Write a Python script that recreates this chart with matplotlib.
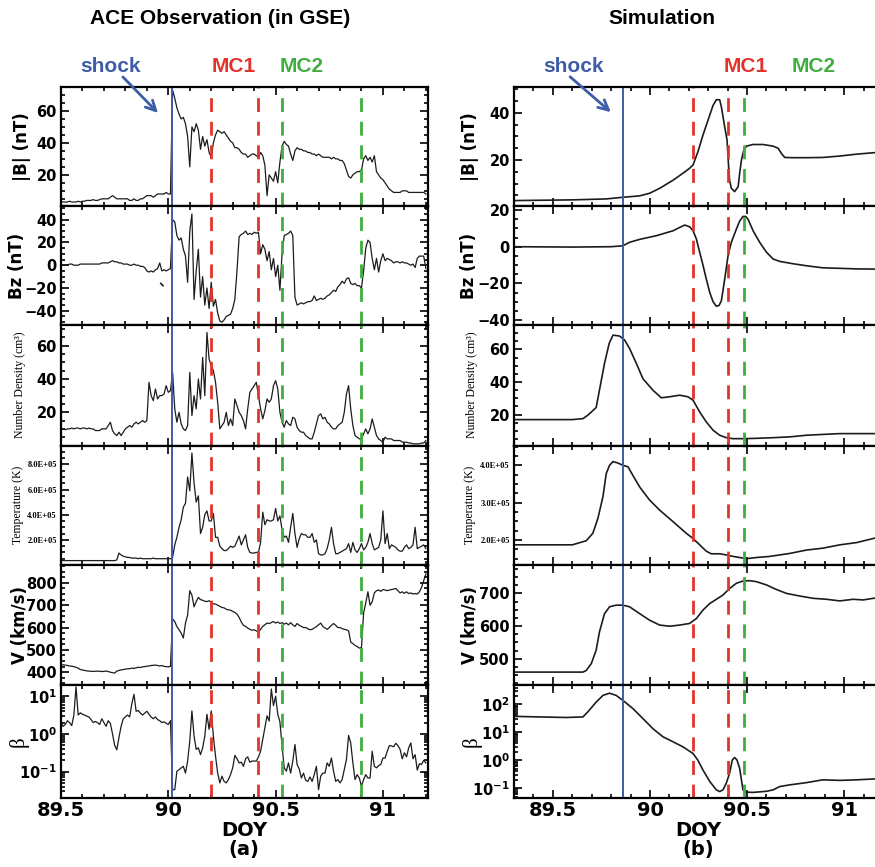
import numpy as np
import matplotlib
matplotlib.use("Agg")
import matplotlib.pyplot as plt
from matplotlib.ticker import MultipleLocator, AutoMinorLocator, FuncFormatter, LogLocator, NullFormatter
from matplotlib.patches import FancyArrowPatch

# ---------------- observation (ACE), one value every 0.01 day, 89.50 .. 91.20
obs_t = np.arange(8950, 9121) / 100.0

obs_b = [3.5, 3, 3, 3, 3.5, 3, 3, 3, 3.5, 3,
         3.5, 3.5, 4, 4, 4, 4.5, 4, 4, 4.5, 5,
         5, 5, 5, 6, 7, 6, 5, 5, 5, 5,
         5, 5, 4, 4, 5, 4, 4, 5, 5, 6,
         7, 7, 7, 6, 7, 8, 8, 8, 8, 9,
         8, 8, 73, 68, 62, 58, 55, 56, 52, 44,
         25, 50, 47, 52, 48, 36, 44, 38, 42, 34,
         31, 40, 45, 48, 47, 46, 47, 45, 43, 41,
         40, 37, 37, 36, 34, 33, 33, 31, 32, 33,
         33, 32, 31, 34, 32, 26, 7, 20, 18, 16,
         22, 15, 28, 38, 41, 39, 38, 33, 29, 35,
         37, 36, 36, 35, 35, 34, 34, 33, 33, 32,
         33, 32, 31, 31, 31, 31, 30, 31, 30, 30,
         29, 29, 27, 23, 19, 18, 20, 21, 22, 22,
         23, 30, 32, 29, 31, 28, 32, 22, 20, 18,
         17, 15, 13, 11, 10, 9, 9, 9, 9, 10,
         10, 10, 9, 9, 9, 9, 9, 9, 9, 9,
         8]

obs_bz = [0, 0, 0, 0, 1, 1, 0, 0, 0, 1,
          1, 1, 1, 1, 1, 1, 1, 1, 1, 2,
          2, 2, 2, 3, 4, 3, 3, 2, 2, 1,
          1, 1, 0, 0, 1, 0, 0, -1, -1, -2,
          -5, -6, -5, -6, -4, -3, 2, -5, -4, -5,
          -4, -3, 40, 38, 26, 22, 24, 14, 8, -15,
          30, 45, -30, -5, 14, -28, -10, -35, -20, -38,
          -15, -36, -30, -42, -49, -50, -48, -45, -44, -43,
          -38, -30, -5, 25, 27, 28, 30, 27, 28, 27,
          29, 28, 29, 10, 18, 14, 4, 12, -4, 6,
          -10, 0, -22, 10, 26, 27, 28, 30, 26, -28,
          -35, -34, -33, -34, -33, -32, -32, -31, -27, -31,
          -30, -29, -30, -29, -27, -26, -24, -22, -23, -19,
          -17, -14, -16, -12, -11, -16, -17, -16, -18, -18,
          -20, -5, 15, 22, 20, 6, -4, 6, -6, 4,
          10, 4, 6, 5, 4, 2, 3, 3, 2, 3,
          2, 2, 1, 0, 1, -2, 6, 8, 8, 8,
          -3]
bz_gap_t = [89.965, 89.975]
bz_gap = [-16, -18]

obs_n = [10, 10, 9.5, 10, 10, 10.5, 10, 10.5, 10.5, 10,
         10.5, 10.5, 10, 10.5, 10, 10, 9, 9, 9, 10,
         10, 10, 12, 14, 9, 7, 6, 8, 6, 8,
         10, 11, 12, 11, 13, 14, 13, 14, 15, 14,
         15, 38, 30, 27, 34, 28, 30, 30, 31, 36,
         32, 33, 44, 22, 14, 20, 13, 10, 9, 12,
         44, 18, 30, 22, 40, 28, 53, 30, 68, 52,
         48, 45, 38, 26, 10, 12, 14, 20, 12, 16,
         12, 28, 24, 20, 18, 15, 10, 22, 32, 34,
         36, 38, 30, 22, 16, 21, 28, 26, 28, 36,
         39, 34, 20, 14, 11, 15, 13, 12, 17, 16,
         11, 9, 8, 8, 6, 5, 4, 4, 8, 13,
         18, 19, 16, 17, 14, 13, 11, 10, 10, 12,
         13, 14, 20, 31, 36, 22, 12, 6, 5, 4,
         4, 7, 10, 7, 10, 16, 11, 6, 4, 3,
         2, 5, 4, 4, 4, 3, 3, 3, 3, 2,
         2, 2, 1.5, 1.5, 1, 1, 1, 1, 1.5, 1.5,
         3]

# temperature in units of 1e5 K
obs_temp = [0.35, 0.35, 0.35, 0.35, 0.35, 0.35, 0.35, 0.35, 0.35, 0.35,
            0.35, 0.35, 0.35, 0.35, 0.35, 0.35, 0.35, 0.35, 0.35, 0.35,
            0.35, 0.35, 0.35, 0.35, 0.35, 0.35, 0.4, 0.95, 0.8, 0.7,
            0.65, 0.6, 0.6, 0.55, 0.55, 0.55, 0.5, 0.55, 0.5, 0.5,
            0.5, 0.5, 0.5, 0.55, 0.5, 0.5, 0.5, 0.5, 0.5, 0.5,
            0.5, 0.5, 0.6, 1.6, 2.2, 3.0, 3.6, 4.6, 4.9, 7.0,
            5.9, 8.9, 6.5, 5.0, 5.5, 2.5, 3.0, 4.0, 4.3, 3.5,
            3.5, 4.1, 2.2, 2.2, 1.5, 1.3, 1.15, 1.15, 1.3, 1.5,
            1.4, 1.5, 1.9, 2.3, 1.6, 2.0, 2.4, 1.4, 1.0, 0.95,
            0.95, 1.0, 1.0, 1.8, 4.2, 3.2, 3.6, 3.5, 3.5, 3.6,
            4.5, 3.5, 3.9, 2.8, 2.2, 2.3, 1.8, 3.0, 4.1, 2.5,
            1.4, 2.1, 2.5, 2.4, 2.4, 2.2, 2.2, 2.5, 1.8, 2.0,
            0.9, 0.8, 0.8, 0.9, 1.3, 2.0, 3.0, 1.7, 0.9, 0.9,
            1.0, 1.1, 1.2, 1.3, 1.7, 1.0, 1.8, 1.2, 1.0, 1.3,
            1.7, 1.2, 1.4, 1.8, 2.5, 1.7, 1.2, 1.3, 1.4, 2.0,
            4.3, 1.7, 2.5, 1.3, 1.6, 1.5, 1.4, 1.2, 1.1, 1.1,
            1.4, 1.6, 1.3, 1.4, 1.6, 3.0, 1.3, 1.4, 1.5, 1.6,
            1.3]

obs_v = [434, 433, 432, 430, 428, 427, 425, 422, 418, 412,
         410, 408, 406, 405, 404, 404, 404, 405, 404, 403,
         404, 405, 403, 400, 398, 396, 405, 408, 410, 412,
         414, 415, 416, 418, 417, 420, 422, 421, 424, 425,
         427, 428, 430, 431, 432, 430, 428, 430, 426, 425,
         424, 426, 638, 627, 604, 590, 575, 553, 620, 656,
         765, 745, 693, 716, 735, 725, 722, 718, 716, 720,
         712, 706, 705, 700, 695, 690, 688, 682, 679, 678,
         672, 668, 660, 645, 625, 610, 605, 598, 592, 588,
         590, 585, 580, 592, 605, 612, 620, 618, 622, 627,
         620, 625, 618, 622, 615, 620, 612, 622, 612, 605,
         618, 610, 605, 600, 600, 595, 590, 592, 598, 604,
         612, 620, 605, 598, 592, 600, 610, 618, 610, 600,
         600, 595, 592, 590, 585, 535, 528, 520, 515, 508,
         510, 665, 710, 760, 700, 716, 755, 765, 768, 762,
         770, 768, 765, 768, 770, 772, 775, 765, 755, 760,
         753, 760, 752, 755, 750, 752, 750, 760, 780, 810,
         840]

# plasma beta, log10
obs_logbeta = [0.29, 0.20, 0.25, 0.35, 0.30, 0.22, 0.50, 1.25, 0.50, 0.56,
               0.52, 0.50, 0.47, 0.45, 0.38, 0.30, 0.33, 0.30, 0.25, 0.40,
               0.30, 0.20, 0.35, 0.28, 0.00, -0.30, -0.42, -0.10, 0.20, 0.40,
               0.45, 0.50, 0.45, 0.80, 1.05, 0.60, 0.62, 0.55, 0.50, 0.55,
               0.60, 0.52, 0.45, 0.40, 0.45, 0.38, 0.35, 0.30, 0.32, 0.28,
               0.25, 0.35, -1.48, -1.48, -0.99, -0.95, -0.90, -0.86, -1.04, -0.72,
               -0.19, 0.61, -0.06, -0.41, -0.37, -0.55, -0.37, -0.06, 0.52, 0.12,
               0.61, -0.06, -0.59, -1.04, -1.30, -1.12, -1.26, -1.30, -1.21, -1.08,
               -0.90, -0.57, -0.66, -0.77, -0.75, -0.86, -0.66, -0.61, -0.75, -0.72,
               -0.72, -0.72, -0.61, -0.46, -0.15, 0.16, 0.48, 0.34, 1.19, 0.75,
               1.00, 0.52, 0.32, -0.32, -0.90, -0.99, -0.77, -1.04, -0.72, -0.28,
               -0.81, -0.93, -1.17, -1.04, -1.23, -1.26, -1.14, -1.26, -1.08, -0.86,
               -1.48, -1.12, -1.04, -1.04, -0.77, -0.86, -0.64, -0.99, -1.26, -1.21,
               -1.30, -1.21, -0.95, -0.68, -0.04, -0.24, -0.77, -1.21, -1.08, -1.17,
               -1.39, -1.21, -1.08, -1.17, -1.17, -0.46, -0.86, -0.90, -0.84, -0.81,
               -0.64, -0.64, -0.46, -0.31, -0.32, -0.34, -0.25, -0.31, -0.41, -0.66,
               -0.50, -0.61, -0.37, -0.24, -0.66, -0.55, -0.96, -0.79, -0.81, -0.70,
               -0.77]

# ---------------- simulation
sim_b_t = [89.30, 89.60, 89.775, 89.86, 89.947, 89.998, 90.05, 90.12, 90.17, 90.204,
           90.222, 90.247, 90.273, 90.299, 90.325, 90.342, 90.359, 90.368, 90.385, 90.397,
           90.404, 90.41, 90.419, 90.436, 90.454, 90.462, 90.471, 90.483, 90.497, 90.53,
           90.582, 90.634, 90.66, 90.677, 90.694, 90.737, 90.806, 90.89, 90.978, 91.064,
           91.15, 91.2]
sim_b = [2.8, 3.1, 3.5, 4.2, 4.8, 5.9, 8, 11.5, 14.4, 16.5,
         17.9, 23.5, 30.6, 36.9, 43.2, 45.6, 45.6, 42.5, 34, 28.5,
         18.6, 11.5, 8, 6.6, 8.7, 14.4, 20, 24.2, 25.9, 26.6,
         26.6, 25.9, 25, 22.8, 21.1, 21, 21, 21.1, 21.7, 22.5,
         23.1, 23.4]

sim_bz_t = [89.30, 89.60, 89.80, 89.86, 89.895, 89.947, 90.033, 90.119, 90.153, 90.179,
            90.204, 90.222, 90.239, 90.256, 90.273, 90.29, 90.308, 90.325, 90.342, 90.356,
            90.368, 90.385, 90.402, 90.419, 90.445, 90.462, 90.479, 90.493, 90.505, 90.531,
            90.565, 90.60, 90.634, 90.668, 90.737, 90.806, 90.89, 90.978, 91.064, 91.15,
            91.2]
sim_bz = [0, -0.2, 0, 0.5, 2.4, 4, 6, 8.7, 10.5, 11.8,
          10.9, 8.7, 4.2, -3, -10, -17.6, -25, -30, -32.5, -32,
          -29.4, -17.6, -5, 2.4, 9.6, 14, 16.5, 16.5, 15, 8.7,
          2.4, -3, -6.7, -8, -9.3, -10.4, -11.5, -11.8, -12.1, -12.2,
          -12.3]

sim_n_t = [89.30, 89.60, 89.655, 89.68, 89.723, 89.74, 89.766, 89.79, 89.81, 89.844,
           89.87, 89.895, 89.93, 89.964, 90.015, 90.058, 90.10, 90.153, 90.196, 90.222,
           90.256, 90.29, 90.325, 90.359, 90.393, 90.428, 90.479, 90.548, 90.634, 90.72,
           90.806, 90.89, 90.978, 91.064, 91.15, 91.2]
sim_n = [16.9, 16.9, 17.5, 19.6, 24.3, 35, 51.4, 63.7, 68.8, 68.2,
         65.7, 60.6, 51.4, 42, 35, 30.3, 30.9, 31.9, 30.9, 28.8,
         21.6, 15.5, 10.4, 7.3, 5.8, 5.2, 5.2, 5.4, 5.8, 6.3,
         7.3, 7.8, 8.3, 8.3, 8.3, 8.3]

sim_temp_t = [89.30, 89.60, 89.62, 89.672, 89.706, 89.732, 89.758, 89.775, 89.792, 89.81,
              89.835, 89.861, 89.887, 89.912, 89.947, 89.998, 90.05, 90.119, 90.187, 90.222,
              90.256, 90.29, 90.316, 90.359, 90.393, 90.428, 90.462, 90.497, 90.548, 90.617,
              90.72, 90.806, 90.89, 90.978, 91.064, 91.15, 91.2]
sim_temp = [1.87, 1.87, 1.9, 1.98, 2.18, 2.58, 3.16, 3.78, 4.0, 4.1,
            4.06, 4.0, 3.96, 3.73, 3.42, 3.07, 2.8, 2.49, 2.18, 2.04,
            1.87, 1.7, 1.63, 1.63, 1.6, 1.56, 1.53, 1.5, 1.53, 1.56,
            1.64, 1.73, 1.78, 1.87, 1.93, 2.04, 2.1]

sim_v_t = [89.30, 89.655, 89.672, 89.698, 89.723, 89.74, 89.766, 89.792, 89.826, 89.861,
           89.895, 89.947, 89.998, 90.05, 90.101, 90.153, 90.204, 90.239, 90.273, 90.308,
           90.342, 90.376, 90.41, 90.445, 90.479, 90.514, 90.548, 90.60, 90.651, 90.703,
           90.771, 90.84, 90.909, 90.978, 91.046, 91.098, 91.15, 91.2]
sim_v = [459, 459, 464, 485, 526, 582, 638, 659, 664, 664,
         659, 638, 618, 603, 599.5, 603, 608, 623, 649, 669,
         682, 695, 715, 731, 738, 739, 736, 726, 712, 700,
         692, 685, 682, 677, 682, 680, 685, 687]

sim_logbeta_t = [89.30, 89.43, 89.569, 89.655, 89.68, 89.723, 89.758, 89.792, 89.826, 89.861,
                 89.912, 89.964, 90.015, 90.067, 90.119, 90.17, 90.222, 90.247, 90.273, 90.308,
                 90.342, 90.359, 90.376, 90.393, 90.41, 90.424, 90.436, 90.448, 90.462, 90.471,
                 90.479, 90.493, 90.531, 90.60, 90.634, 90.668, 90.72, 90.806, 90.89, 90.978,
                 91.064, 91.15, 91.2]
sim_logbeta = [1.57, 1.55, 1.53, 1.55, 1.73, 2.08, 2.32, 2.40, 2.32, 2.14,
               1.85, 1.49, 1.13, 0.84, 0.66, 0.48, 0.24, 0.0, -0.35, -0.76,
               -1.06, -1.12, -1.06, -0.82, -0.47, 0.01, 0.10, 0.01, -0.29, -0.70,
               -1.06, -1.14, -1.15, -1.11, -1.06, -0.94, -0.88, -0.80, -0.70, -0.72,
               -0.70, -0.67, -0.66]

# event times (DOY)
obs_events = {"shock": 90.015, "mc1": [90.20, 90.42], "mc2": [90.53, 90.90]}
sim_events = {"shock": 89.86, "mc1": [90.222, 90.404], "mc2": [90.483]}

BLUE = "#3d5da8"
RED = "#e2342b"
GREEN = "#3fae3f"

plt.rcParams["font.family"] = "DejaVu Sans"
plt.rcParams["font.weight"] = "bold"
plt.rcParams["mathtext.default"] = "bf"

W, H = 875, 867
fig = plt.figure(figsize=(W / 100, H / 100), dpi=100)


def box(x0, y0, x1, y1):
    return [x0 / W, 1 - y1 / H, (x1 - x0) / W, (y1 - y0) / H]


rows = [87, 206, 325, 445.5, 565, 684.5, 798]
L = (61, 428)
R = (514, 883)
axl = [fig.add_axes(box(L[0], rows[i], L[1], rows[i + 1])) for i in range(6)]
axr = [fig.add_axes(box(R[0], rows[i], R[1], rows[i + 1])) for i in range(6)]


def style(ax, xlim, bottom):
    ax.set_xlim(*xlim)
    ax.xaxis.set_major_locator(MultipleLocator(0.5))
    ax.xaxis.set_minor_locator(MultipleLocator(0.1))
    ax.xaxis.set_major_formatter(FuncFormatter(lambda v, p: "%g" % v))
    ax.tick_params(which="both", direction="in", top=True, right=True, width=1.2)
    ax.tick_params(which="major", length=6)
    ax.tick_params(which="minor", length=3)
    ax.tick_params(axis="y", labelsize=10.5, pad=3)
    ax.tick_params(axis="x", labelsize=14, pad=2)
    if not bottom:
        ax.tick_params(axis="x", labelbottom=False)
    for s in ax.spines.values():
        s.set_linewidth(1.6)


def events(ax, ev):
    ax.axvline(ev["shock"], color=BLUE, lw=1.4)
    for x in ev["mc1"]:
        ax.axvline(x, color=RED, lw=2, dashes=(5, 3.5))
    for x in ev["mc2"]:
        ax.axvline(x, color=GREEN, lw=2, dashes=(5, 3.5))


def ylab(ax, text, xpx, axleft, axw, **kw):
    ax.text((xpx - axleft) / axw, 0.5, text, rotation=90, ha="center", va="center",
            transform=ax.transAxes, **kw)


def beta_fmt(v, p):
    return r"$10^{%d}$" % int(round(np.log10(v)))


def temp_fmt(v, p):
    return "%.1E" % v


sans_lab = dict(fontsize=12, fontweight="bold")
serif_lab = dict(family="Liberation Serif", fontweight="normal")

# ---------------- left column: observation
data_l = [obs_b, obs_bz, obs_n, np.array(obs_temp) * 1e5, obs_v, 10 ** np.array(obs_logbeta)]
for ax, y in zip(axl, data_l):
    ax.plot(obs_t, y, color="#1c1c1c", lw=0.9)
axl[1].plot(bz_gap_t, bz_gap, color="#1c1c1c", lw=1.2)

# ---------------- right column: simulation
data_r = [(sim_b_t, sim_b), (sim_bz_t, sim_bz), (sim_n_t, sim_n),
          (sim_temp_t, np.array(sim_temp) * 1e5), (sim_v_t, sim_v),
          (sim_logbeta_t, 10 ** np.array(sim_logbeta))]
for ax, (t, y) in zip(axr, data_r):
    ax.plot(t, y, color="#1c1c1c", lw=1.2)

for axs, xlim, ev in ((axl, (89.5, 91.21), obs_events), (axr, (89.3, 91.2), sim_events)):
    for i, ax in enumerate(axs):
        style(ax, xlim, i == 5)
        events(ax, ev)
    axs[5].set_yscale("log")
    axs[5].yaxis.set_major_locator(LogLocator(base=10, numticks=10))
    axs[5].yaxis.set_minor_locator(LogLocator(base=10, subs=np.arange(2, 10), numticks=20))
    axs[5].yaxis.set_major_formatter(FuncFormatter(beta_fmt))
    axs[5].yaxis.set_minor_formatter(NullFormatter())
    axs[3].yaxis.set_major_formatter(FuncFormatter(temp_fmt))
    axs[3].tick_params(axis="y", labelsize=6, labelfontfamily="Liberation Serif")
    for ax in axs[:5]:
        ax.yaxis.set_minor_locator(AutoMinorLocator(4))

# y limits and ticks, left
axl[0].set_ylim(0.5, 75); axl[0].set_yticks([20, 40, 60])
axl[1].set_ylim(-52.5, 52); axl[1].set_yticks([-40, -20, 0, 20, 40])
axl[2].set_ylim(0, 72.5); axl[2].set_yticks([20, 40, 60])
axl[3].set_ylim(0, 9.5e5); axl[3].set_yticks([2e5, 4e5, 6e5, 8e5])
axl[4].set_ylim(345, 880); axl[4].set_yticks([400, 500, 600, 700, 800])
axl[5].set_ylim(10 ** -1.7, 10 ** 1.31)

# y limits and ticks, right
axr[0].set_ylim(0.5, 51); axr[0].set_yticks([20, 40])
axr[1].set_ylim(-42.7, 22.2); axr[1].set_yticks([-40, -20, 0, 20])
axr[2].set_ylim(1, 75); axr[2].set_yticks([20, 40, 60])
axr[3].set_ylim(1.33e5, 4.53e5); axr[3].set_yticks([2e5, 3e5, 4e5])
axr[4].set_ylim(421, 787); axr[4].set_yticks([500, 600, 700])
axr[5].set_ylim(10 ** -1.35, 10 ** 2.71)

labels = ["|B| (nT)", "Bz (nT)", "Number Density (cm³)", "Temperature (K)", "V (km/s)", "β"]
kws = [sans_lab, sans_lab, dict(serif_lab, fontsize=8.5), dict(serif_lab, fontsize=8.5),
       sans_lab, dict(serif_lab, fontsize=15)]
xl = [22, 17, 20, 18, 20, 19]
xr = [470, 469, 472, 470, 470, 472]
for i in range(6):
    ylab(axl[i], labels[i], xl[i], L[0], L[1] - L[0], **kws[i])
    ylab(axr[i], labels[i], xr[i], R[0], R[1] - R[0], **kws[i])


def ftext(xpx, ypx, s, **kw):
    fig.text(xpx / W, 1 - ypx / H, s, ha="center", va="center", **kw)


head = dict(family="Liberation Sans", fontweight="bold", fontsize=15)
ftext(220, 19, "ACE Observation (in GSE)", **head)
ftext(662, 19, "Simulation", **head)
ftext(111, 67, "shock", color=BLUE, **head)
ftext(234, 67, "MC1", color=RED, **head)
ftext(302, 67, "MC2", color=GREEN, **head)
ftext(574, 67, "shock", color=BLUE, **head)
ftext(746, 67, "MC1", color=RED, **head)
ftext(814, 67, "MC2", color=GREEN, **head)

for (x0, y0, x1, y1) in ((121, 75, 160, 115), (568, 75, 613, 114)):
    fig.add_artist(FancyArrowPatch((x0 / W, 1 - y0 / H), (x1 / W, 1 - y1 / H),
                                   transform=fig.transFigure, arrowstyle="->",
                                   mutation_scale=18, color=BLUE, lw=2))

ftext(244, 831, "DOY", fontsize=14)
ftext(244, 850, "(a)", fontsize=14)
ftext(698, 831, "DOY", fontsize=14)
ftext(698, 850, "(b)", fontsize=14)

fig.savefig("out.png", dpi=100)
